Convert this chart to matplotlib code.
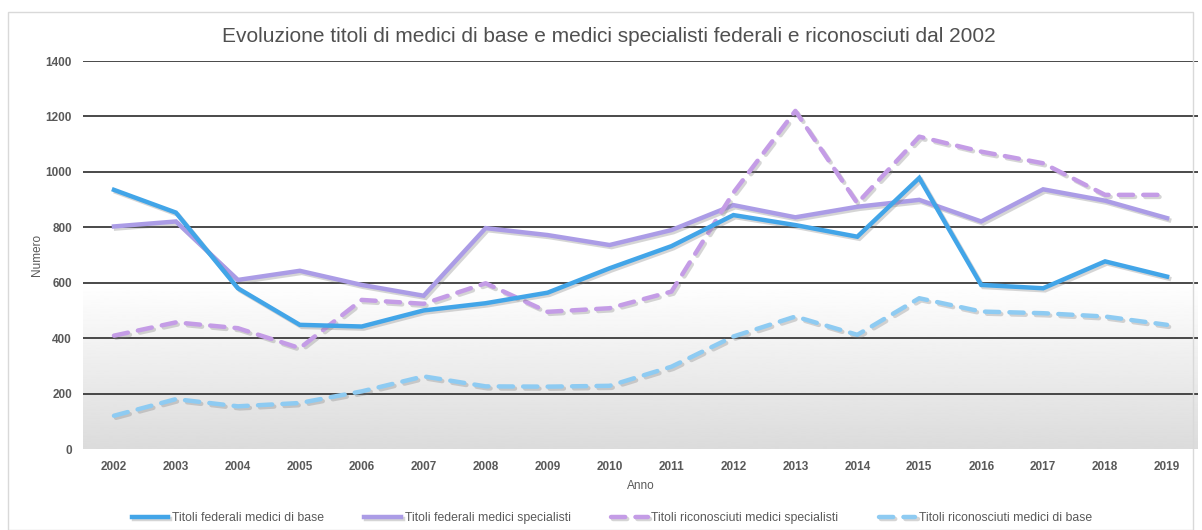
import numpy as np
import matplotlib
matplotlib.use("Agg")
import matplotlib.pyplot as plt
import matplotlib.patheffects as pe
from matplotlib.patches import Rectangle

plt.rcParams['font.family'] = ['Liberation Sans', 'DejaVu Sans']

years = [str(y) for y in range(2002, 2020)]
fed_base = [935, 853, 580, 448, 442, 500, 526, 564, 652, 732, 844, 808, 766, 978, 592, 580, 677, 622]
fed_spec = [803, 821, 610, 643, 592, 553, 797, 772, 736, 790, 880, 836, 874, 899, 821, 937, 896, 833]
ric_spec = [409, 457, 436, 364, 538, 524, 598, 495, 508, 568, 925, 1220, 887, 1127, 1073, 1031, 917, 917]
ric_base = [120, 180, 154, 166, 208, 262, 226, 225, 228, 297, 406, 478, 412, 544, 496, 490, 478, 448]

labels = ["Titoli federali medici di base", "Titoli federali medici specialisti",
          "Titoli riconosciuti medici specialisti", "Titoli riconosciuti medici di base"]
y_ticks = [0, 200, 400, 600, 800, 1000, 1200, 1400]

TXT = '#595959'
W, H = 1202, 530
fig = plt.figure(figsize=(W / 100, H / 100), dpi=100)
fig.patch.set_facecolor('white')

# chart border
fig.patches.append(Rectangle((8 / W, 0.5 / H), (W - 9.5) / W - 8 / W, (H - 12) / H - 0.5 / H,
                             transform=fig.transFigure, fill=False, edgecolor='#d9d9d9', lw=1))

ax = fig.add_axes([83 / W, (H - 449) / H, (1198 - 83) / W, (449 - 61) / H])
ax.set_facecolor('white')

# gradient background below 600
grad = np.linspace(0.86, 1.0, 256).reshape(-1, 1)
ax.imshow(grad, cmap='gray', vmin=0, vmax=1, origin='lower', aspect='auto',
          extent=[0, 1, 0, 600 / 1400], transform=ax.transAxes, zorder=0)

x = np.arange(len(years))
ax.set_xlim(-0.5, len(years) - 0.5)
ax.set_ylim(0, 1400)

for v in y_ticks[1:]:
    ax.axhline(v, color='#3a3a3a', lw=1.3, zorder=1)

shadow = [pe.SimpleLineShadow(offset=(1.5, -1.5), shadow_color='#777777', alpha=0.3), pe.Normal()]

c_blue = '#42a5e8'
c_purp = '#ab9ce6'
c_purpd = '#c49ce6'
c_lblue = '#8ecbf2'

l1, = ax.plot(x, fed_base, color=c_blue, lw=3.2, zorder=5, solid_joinstyle='miter', path_effects=shadow, label=labels[0])
l2, = ax.plot(x, fed_spec, color=c_purp, lw=3.2, zorder=4, solid_joinstyle='miter', path_effects=shadow, label=labels[1])
l3, = ax.plot(x, ric_spec, color=c_purpd, lw=3.2, zorder=4, dashes=(3.2, 2.3), dash_capstyle='round',
              path_effects=shadow, label=labels[2])
l4, = ax.plot(x, ric_base, color=c_lblue, lw=3.2, zorder=4, dashes=(3.2, 2.3), dash_capstyle='round',
              path_effects=shadow, label=labels[3])

ax.set_xticks(x)
ax.set_xticklabels(years, fontsize=8.5, fontweight='bold', color=TXT)
ax.set_yticks(y_ticks)
ax.set_yticklabels([str(v) for v in y_ticks], fontsize=8.5, fontweight='bold', color=TXT)
ax.tick_params(axis='both', length=0)
ax.tick_params(axis='x', pad=9)
ax.tick_params(axis='y', pad=8)
for s in ax.spines.values():
    s.set_visible(False)

ax.set_xlabel('Anno', fontsize=8.5, color=TXT, labelpad=5)
ax.set_ylabel('Numero', fontsize=8.5, color=TXT, labelpad=2)

fig.text(609 / W, 1 - 36 / H, "Evoluzione titoli di medici di base e medici specialisti federali e riconosciuti dal 2002",
         ha='center', va='center', fontsize=15, color='#505050')

leg = fig.legend(handles=[l1, l2, l3, l4], loc='center', bbox_to_anchor=(612 / W, 12 / H), ncol=4,
                 frameon=False, fontsize=8.8, handlelength=3.0, handletextpad=0.3, columnspacing=3.3)
for t in leg.get_texts():
    t.set_color(TXT)

fig.savefig('out.png', dpi=100, facecolor='white')
